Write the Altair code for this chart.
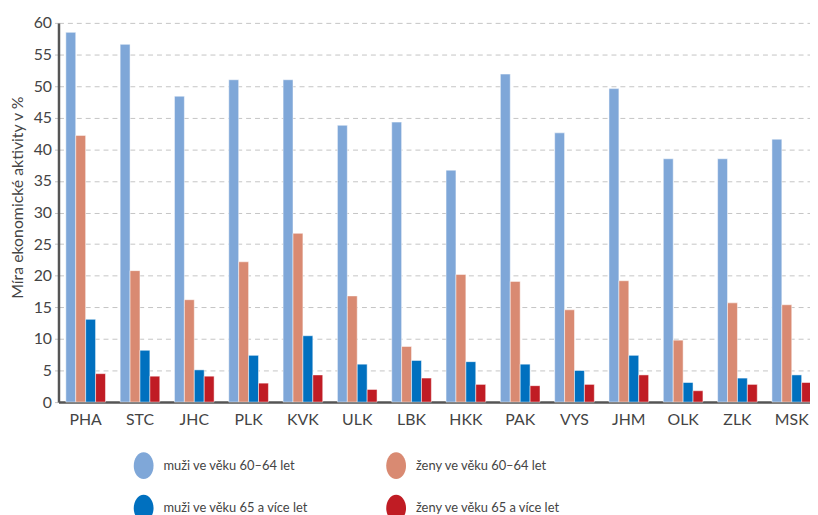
import altair as alt
import pandas as pd

regions = ["PHA", "STC", "JHC", "PLK", "KVK", "ULK", "LBK", "HKK", "PAK", "VYS", "JHM", "OLK", "ZLK", "MSK"]
series = ["muži ve věku 60–64 let", "ženy ve věku 60–64 let", "muži ve věku 65 a více let", "ženy ve věku 65 a více let"]
colors = ["#7FA7D8", "#D98A72", "#0070BF", "#C01C24"]

muzi_60_64 = [58.5, 56.6, 48.4, 51.0, 51.0, 43.8, 44.3, 36.7, 51.9, 42.6, 49.6, 38.5, 38.5, 41.6]
zeny_60_64 = [42.2, 20.8, 16.2, 22.2, 26.7, 16.8, 8.8, 20.2, 19.1, 14.6, 19.2, 9.8, 15.7, 15.4]
muzi_65 = [13.1, 8.2, 5.1, 7.4, 10.5, 6.0, 6.6, 6.4, 6.0, 5.0, 7.4, 3.1, 3.8, 4.3]
zeny_65 = [4.5, 4.1, 4.1, 3.0, 4.3, 2.0, 3.8, 2.8, 2.6, 2.8, 4.3, 1.8, 2.8, 3.1]

values = [muzi_60_64, zeny_60_64, muzi_65, zeny_65]
rows = []
for s, vals in zip(series, values):
    for r, v in zip(regions, vals):
        rows.append({"kraj": r, "skupina": s, "hodnota": v})
df = pd.DataFrame(rows)

# legend is laid out column by column: column 1 = men, column 2 = women
legend_order = [series[0], series[2], series[1], series[3]]
legend_colors = [colors[0], colors[2], colors[1], colors[3]]

FONT = "Lato"
TXT = "#444444"

ellipse = "M-1,0 A1,1.35 0 1,1 1,0 A1,1.35 0 1,1 -1,0 Z"

chart = alt.Chart(df).mark_bar(
    stroke="white", strokeWidth=1, strokeOpacity=0.5
).encode(
    x=alt.X("kraj:N", sort=regions, title=None,
            scale=alt.Scale(paddingInner=0.27, paddingOuter=0.135),
            axis=alt.Axis(labelAngle=0, labelFontSize=16, labelColor=TXT, labelFont=FONT,
                          labelPadding=10, ticks=False, domainColor="#555555", domainWidth=2.5)),
    xOffset=alt.XOffset("skupina:N", sort=series, scale=alt.Scale(domain=series, paddingInner=0, paddingOuter=0)),
    y=alt.Y("hodnota:Q", title="Míra ekonomické aktivity v %",
            scale=alt.Scale(domain=[0, 60], nice=False),
            axis=alt.Axis(values=list(range(0, 61, 5)), labelFontSize=16, labelColor=TXT, labelFont=FONT,
                          labelPadding=3, tickSize=4, tickColor="#c4c4c4", tickDash=[5, 4],
                          domainColor="#555555", domainWidth=2.5,
                          grid=True, gridColor="#c4c4c4", gridDash=[5, 4], gridWidth=1,
                          titleFont=FONT, titleFontSize=16, titleFontWeight="normal", titleColor=TXT,
                          titleX=-41, titleY=176, titleAlign="center", titleBaseline="middle")),
    color=alt.Color("skupina:N", scale=alt.Scale(domain=legend_order, range=legend_colors),
                    legend=alt.Legend(title=None, orient="none", legendX=76, legendY=437,
                                      columns=2, columnPadding=78, rowPadding=15,
                                      symbolType=ellipse, symbolSize=400, symbolStrokeWidth=0,
                                      labelFont=FONT, labelFontSize=13, labelColor=TXT,
                                      labelOffset=10, labelLimit=400, padding=0)),
).properties(
    width=768, height=383,
    autosize=alt.AutoSizeParams(type="none"),
    padding={"left": 51, "top": 12.5, "right": -9, "bottom": 111.5},
).configure_view(stroke=None).configure_axis(domainCap="butt")

chart.save("out.html", embed_options={"renderer": "svg", "actions": False})
